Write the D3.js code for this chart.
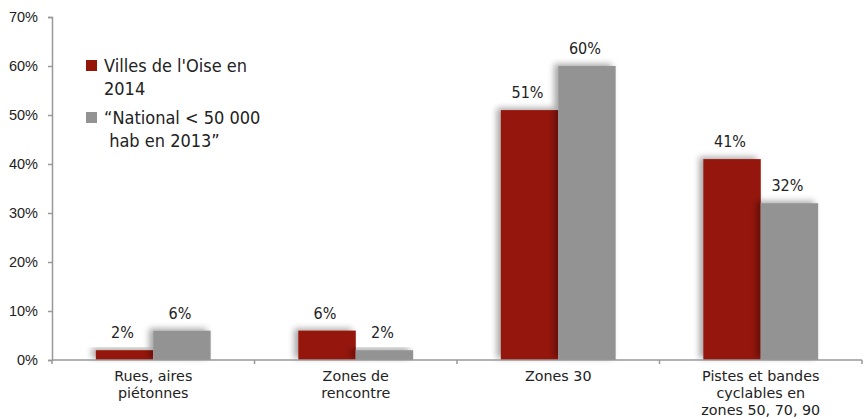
<!DOCTYPE html>
<html>
<head>
<meta charset="utf-8">
<script src="https://cdn.jsdelivr.net/npm/d3@7"></script>
<style>
  body { margin: 0; background: #fff; }
  svg { font-family: "DejaVu Sans Condensed", "DejaVu Sans", sans-serif; }
</style>
</head>
<body>
<svg id="chart" width="865" height="419"></svg>
<script>
const categories = [
  ["Rues, aires", "piétonnes"],
  ["Zones de", "rencontre"],
  ["Zones 30"],
  ["Pistes et bandes", "cyclables en", "zones 50, 70, 90"]
];
const seriesNames = [["Villes de l'Oise en", "2014"], ["“National < 50 000", " hab en 2013”"]];
const oise2014 = [2, 6, 51, 41];
const national2013 = [6, 2, 60, 32];
const yTicks = [0, 10, 20, 30, 40, 50, 60, 70];
const colors = ["#951608", "#939393"];

const margin = { left: 52, right: 3, top: 17, bottom: 59 };
const width = 865, height = 419;

const svg = d3.select("#chart");

// shadow on bars
const defs = svg.append("defs");
defs.append("filter").attr("id", "shadow")
  .attr("x", "-30%").attr("y", "-30%").attr("width", "160%").attr("height", "160%")
  .append("feDropShadow")
  .attr("dx", -4).attr("dy", -2).attr("stdDeviation", 3)
  .attr("flood-color", "#000").attr("flood-opacity", 0.35);

const keys = categories.map((d, i) => i);
const x0 = d3.scaleBand().domain(keys).range([margin.left, width - margin.right]).padding(0);
const groupW = x0.bandwidth() * 0.567;
const x1 = d3.scaleBand().domain([0, 1]).range([0, groupW]);

const y = d3.scaleLinear().domain([0, 70]).range([height - margin.bottom, margin.top]);

const rows = keys.map(i => [oise2014[i], national2013[i]]);

// y axis
const yAxis = svg.append("g")
  .attr("transform", `translate(${margin.left},0)`)
  .call(d3.axisLeft(y).tickValues(yTicks).tickFormat(d => d + "%").tickSize(4).tickPadding(10));
yAxis.selectAll("text").attr("font-size", 14.5).attr("fill", "#222").attr("font-family", "inherit");
yAxis.selectAll("line, path").attr("stroke", "#999").attr("stroke-width", 1.5);

// bars
const groups = svg.append("g").selectAll("g").data(rows).join("g")
  .attr("transform", (d, i) => `translate(${x0(i) + (x0.bandwidth() - groupW) / 2},0)`);

groups.selectAll("rect").data(d => d).join("rect")
  .attr("x", (d, j) => x1(j))
  .attr("y", d => y(d))
  .attr("width", x1.bandwidth())
  .attr("height", d => y(0) - y(d))
  .attr("fill", (d, j) => colors[j])
  .attr("filter", "url(#shadow)");

groups.selectAll("text").data(d => d).join("text")
  .attr("x", (d, j) => x1(j) + x1.bandwidth() / 2 - 2)
  .attr("y", d => y(d) - 12)
  .attr("text-anchor", "middle")
  .attr("font-size", 16)
  .attr("fill", "#222")
  .text(d => d + "%");

// x axis
const xAxisG = svg.append("g").attr("transform", `translate(0,${y(0)})`);
xAxisG.append("line")
  .attr("x1", margin.left).attr("x2", width - margin.right)
  .attr("stroke", "#999").attr("stroke-width", 1.5);
xAxisG.selectAll("line.tick").data(keys.concat([keys.length])).join("line")
  .attr("class", "tick")
  .attr("x1", i => i < keys.length ? x0(i) : width - margin.right)
  .attr("x2", i => i < keys.length ? x0(i) : width - margin.right)
  .attr("y1", 0).attr("y2", 4)
  .attr("stroke", "#999").attr("stroke-width", 1.5);

// category labels (wider face at smaller size so the tight lines don't collide)
const catLabels = svg.append("g").selectAll("text").data(categories).join("text")
  .attr("x", (d, i) => x0(i) + x0.bandwidth() / 2)
  .attr("y", y(0) + 21)
  .attr("text-anchor", "middle")
  .attr("font-family", "'DejaVu Sans', sans-serif")
  .attr("font-size", 14.3)
  .attr("fill", "#222");
catLabels.selectAll("tspan").data(d => d).join("tspan")
  .attr("x", function () { return d3.select(this.parentNode).attr("x"); })
  .attr("dy", (d, k) => k === 0 ? 0 : 17)
  .text(d => d);

// legend
const legend = svg.append("g");
const legendY = [72, 124];
seriesNames.forEach((lines, j) => {
  legend.append("rect")
    .attr("x", 86).attr("y", legendY[j] - 12)
    .attr("width", 11).attr("height", 11)
    .attr("fill", colors[j]);
  const t = legend.append("text")
    .attr("x", 104).attr("y", legendY[j])
    .attr("font-size", 18).attr("fill", "#222")
    .attr("xml:space", "preserve");
  t.selectAll("tspan").data(lines).join("tspan")
    .attr("x", 104)
    .attr("dy", (d, k) => k === 0 ? 0 : 23)
    .style("white-space", "pre")
    .text(d => d);
});
</script>
</body>
</html>
